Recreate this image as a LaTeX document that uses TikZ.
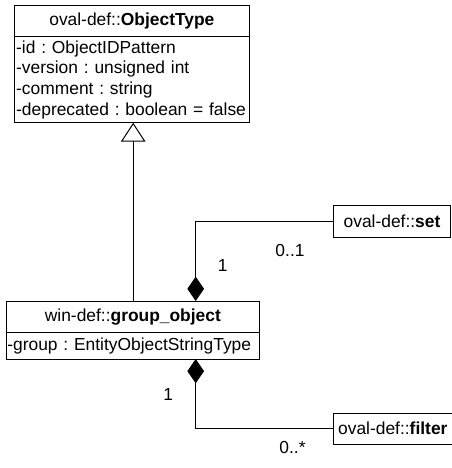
\documentclass[tikz,border=0pt]{standalone}
\usepackage{fontspec}
\setmainfont{Liberation Sans}
\frenchspacing
\usetikzlibrary{arrows.meta,calc}
\begin{document}
\begin{tikzpicture}[x=1pt,y=-1pt,
  every node/.style={font=\fontsize{17.4}{20.6}\selectfont\frenchspacing},
  box/.style={draw=black,line width=1pt,rectangle,inner sep=0pt,outer sep=0pt},
  conn/.style={draw=black,line width=1pt},
  gen/.style={conn,-{Triangle[open,length=19pt,width=24.6pt,line width=1pt]}},
  comp/.style={conn,{Diamond[length=24.3pt,width=16.7pt,fill=black]}-},
  lbl/.style={inner sep=0pt}]
\useasboundingbox (0,0) rectangle (451,468);
\fill[white] (0,0) rectangle (451,468);
% ObjectType
\node[box,anchor=north west,minimum width=234.3pt,minimum height=30.7pt] (ot) at (14.7,6) {oval-def::\textbf{ObjectType}};
\node[box,anchor=north west,minimum width=234.3pt,minimum height=86pt,align=left,text width=232pt,inner xsep=1.5pt] (otattr) at (14.7,36.7)
  {-id : ObjectIDPattern\\-version : unsigned int\\-comment : string\\-deprecated : boolean = false};
% group_object
\node[box,anchor=north west,minimum width=252.3pt,minimum height=31.3pt] (go) at (6.7,301) {win-def::\textbf{group\_object}};
\node[box,anchor=north west,minimum width=252.3pt,minimum height=26.7pt,align=left,text width=251pt,inner xsep=0.6pt] (goattr) at (6.7,332.3)
  {-group : EntityObjectStringType};
% set, filter
\node[box,anchor=north west,minimum width=117.4pt,minimum height=32.3pt] (set) at (333.3,205) {oval-def::\textbf{set}};
\node[box,anchor=north west,minimum width=119pt,minimum height=30.7pt] (filter) at (333.3,413.3) {oval-def::\textbf{filter}};
% connectors
\coordinate (gx) at (133.2,0);
\coordinate (dx) at (195.7,0);
\draw[gen] (go.north -| gx) -- (otattr.south -| gx);
\draw[comp] (go.north -| dx) |- (set.west);
\draw[comp] (goattr.south -| dx) |- (filter.west);
% labels
\node[lbl] (l1) at (290,250.7) {0..1};
\node[lbl] (l2) at (222.7,265.7) {1};
\node[lbl] (l3) at (168.3,394.3) {1};
\node[lbl] (l4) at (292.5,448) {0..*};
\end{tikzpicture}
\end{document}
